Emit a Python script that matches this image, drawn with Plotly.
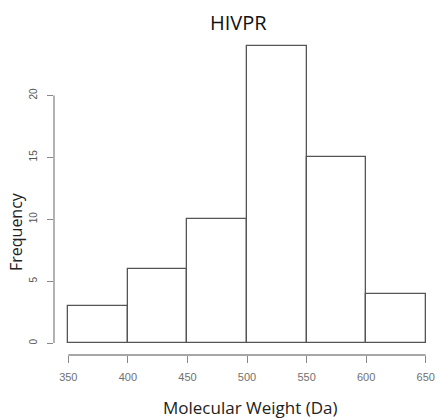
import plotly.graph_objects as go

bin_edges = [350, 400, 450, 500, 550, 600, 650]
counts = [3, 6, 10, 24, 15, 4]
x_ticks = [350, 400, 450, 500, 550, 600, 650]
y_ticks = [0, 5, 10, 15, 20]
title = "HIVPR"
x_title = "Molecular Weight (Da)"
y_title = "Frequency"

centers = [(a + b) / 2 for a, b in zip(bin_edges[:-1], bin_edges[1:])]
widths = [b - a for a, b in zip(bin_edges[:-1], bin_edges[1:])]

fig = go.Figure()
fig.add_trace(go.Bar(
    x=centers, y=counts, width=widths,
    marker=dict(color="white", line=dict(color="#555555", width=1.3)),
    hoverinfo="skip",
))

axis_col = "#888888"
fig.update_layout(
    width=441, height=418,
    margin=dict(l=54, r=1, t=34, b=63),
    paper_bgcolor="white", plot_bgcolor="white",
    showlegend=False,
    bargap=0,
    xaxis=dict(
        range=[338, 662], tickvals=x_ticks, ticktext=[str(v) for v in x_ticks],
        showgrid=False, zeroline=False, showline=False,
        ticks="outside", ticklen=7, tickwidth=1.3, tickcolor=axis_col,
        tickfont=dict(family="Liberation Sans", size=11, color="#707070"),
        ticklabelstandoff=5,
    ),
    yaxis=dict(
        range=[-0.96, 24.96], tickvals=y_ticks, ticktext=[str(v) for v in y_ticks],
        showgrid=False, zeroline=False, showline=False,
        ticks="outside", ticklen=6, tickwidth=1.3, tickcolor=axis_col,
        tickangle=-90,
        tickfont=dict(family="Liberation Sans", size=10, color="#555555"),
        ticklabelstandoff=6,
    ),
    shapes=[
        dict(type="line", xref="x", yref="paper", x0=x_ticks[0], x1=x_ticks[-1], y0=0, y1=0,
             line=dict(color=axis_col, width=1.3)),
        dict(type="line", xref="paper", yref="y", x0=0, x1=0, y0=y_ticks[0], y1=y_ticks[-1],
             line=dict(color=axis_col, width=1.3)),
    ],
    annotations=[
        dict(text=title, xref="paper", yref="paper", x=(238 - 54) / 386, y=1 + (34 - 22) / 321,
             xanchor="center", yanchor="middle", showarrow=False,
             font=dict(family="Open Sans", size=20, color="#111111")),
        dict(text=x_title, xref="paper", yref="paper", x=(250 - 54) / 386, y=-(407 - 355) / 321,
             xanchor="center", yanchor="middle", showarrow=False,
             font=dict(family="Open Sans", size=17, color="#222222")),
        dict(text=y_title, xref="paper", yref="paper", x=-(54 - 16) / 386, y=(355 - 232) / 321,
             xanchor="center", yanchor="middle", showarrow=False, textangle=-90,
             font=dict(family="Open Sans", size=16, color="#222222")),
    ],
)

fig.write_html("out.html")
